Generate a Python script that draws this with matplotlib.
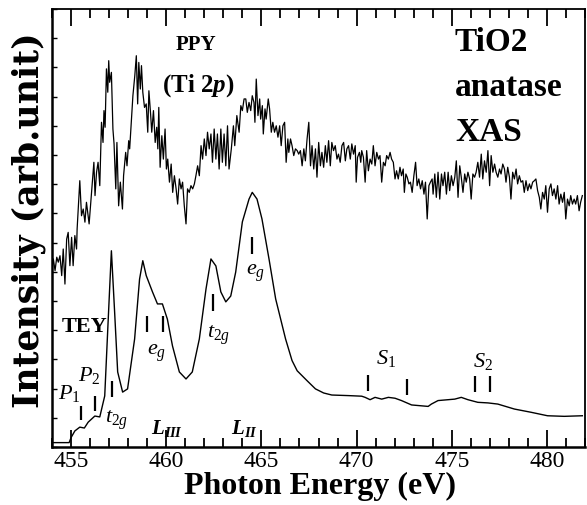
import matplotlib
matplotlib.use("Agg")
import matplotlib.pyplot as plt
from matplotlib.ticker import MultipleLocator, NullFormatter

plt.rcParams['font.family'] = ['Liberation Serif', 'DejaVu Serif']
plt.rcParams['mathtext.fontset'] = 'custom'
plt.rcParams['mathtext.rm'] = 'Liberation Serif'
plt.rcParams['mathtext.it'] = 'Liberation Serif:italic'
plt.rcParams['mathtext.bf'] = 'Liberation Serif:bold'
plt.rcParams['mathtext.bfit'] = 'Liberation Serif:italic:bold'

# ---------------- data (photon energy in eV, intensity in arb. units) -------------
tey_energy = [454.00, 454.90, 455.00, 455.20, 455.46, 455.70, 455.90, 456.25, 456.51,
              456.77, 456.93, 457.12, 457.29, 457.45, 457.71, 457.97, 458.34, 458.60,
              458.77, 458.95, 459.28, 459.54, 459.80, 460.06, 460.33, 460.69, 461.04,
              461.37, 461.74, 462.09, 462.35, 462.61, 462.87, 463.13, 463.39, 463.65,
              464.00, 464.35, 464.52, 464.77, 465.03, 465.40, 465.75, 466.27, 466.61,
              466.88, 467.40, 467.84, 468.27, 468.70, 469.58, 470.27, 470.45, 470.71,
              470.97, 471.32, 471.67, 472.02, 472.36, 472.89, 473.76, 473.93, 474.28,
              474.81, 475.16, 475.50, 475.85, 476.37, 476.90, 477.42, 478.29, 479.16,
              480.03, 480.91, 481.86]
tey_intensity = [0.15, 0.15, 0.32, 0.55, 0.68, 0.65, 0.85, 1.06, 1.03,
                 1.75, 4.04, 6.72, 4.62, 2.57, 1.88, 1.99, 3.70, 5.75,
                 6.38, 5.87, 5.31, 4.90, 4.90, 4.38, 3.46, 2.57, 2.33,
                 2.57, 3.70, 5.41, 6.44, 6.20, 5.31, 4.97, 5.17, 5.99,
                 7.71, 8.49, 8.72, 8.49, 7.81, 6.44, 5.07, 3.70, 2.96,
                 2.61, 2.27, 1.99, 1.85, 1.78, 1.76, 1.74, 1.70, 1.62,
                 1.70, 1.64, 1.70, 1.67, 1.59, 1.44, 1.39, 1.47, 1.59,
                 1.62, 1.64, 1.70, 1.62, 1.53, 1.51, 1.47, 1.30, 1.19,
                 1.07, 1.05, 1.07]

ppy_energy = [
    454.00, 454.07, 454.16, 454.25, 454.33, 454.42, 454.51, 454.59, 454.68, 454.77,
    454.85, 454.94, 455.03, 455.11, 455.20, 455.29, 455.32, 455.46, 455.55, 455.64,
    455.73, 455.81, 455.95, 456.08, 456.20, 456.26, 456.34, 456.42, 456.51, 456.60,
    456.68, 456.73, 456.79, 456.86, 456.93, 456.98, 457.03, 457.12, 457.20, 457.26,
    457.35, 457.41, 457.50, 457.59, 457.70, 457.76, 457.87, 457.94, 458.03, 458.08,
    458.17, 458.25, 458.35, 458.43, 458.50, 458.56, 458.64, 458.70, 458.77, 458.86,
    458.95, 459.03, 459.09, 459.18, 459.24, 459.33, 459.42, 459.50, 459.56, 459.61,
    459.68, 459.77, 459.85, 459.94, 460.01, 460.08, 460.17, 460.26, 460.34, 460.43,
    460.52, 460.60, 460.69, 460.78, 460.86, 460.95, 461.04, 461.12, 461.21, 461.30,
    461.39, 461.48, 461.56, 461.65, 461.74, 461.83, 461.91, 462.00, 462.09, 462.17,
    462.26, 462.35, 462.43, 462.52, 462.61, 462.69, 462.78, 462.87, 462.95, 463.04,
    463.13, 463.22, 463.30, 463.42, 463.53, 463.60, 463.71, 463.83, 463.92, 464.00,
    464.09, 464.18, 464.26, 464.35, 464.44, 464.52, 464.61, 464.66, 464.73, 464.82,
    464.91, 464.96, 465.05, 465.10, 465.19, 465.25, 465.36, 465.43, 465.52, 465.60,
    465.69, 465.78, 465.87, 465.96, 466.04, 466.13, 466.22, 466.30, 466.39, 466.44,
    466.53, 466.61, 466.70, 466.79, 466.88, 466.96, 467.05, 467.14, 467.23, 467.31,
    467.40, 467.49, 467.58, 467.66, 467.75, 467.84, 467.92, 468.01, 468.10, 468.18,
    468.27, 468.36, 468.44, 468.53, 468.62, 468.70, 468.79, 468.88, 468.97, 469.05,
    469.14, 469.23, 469.32, 469.41, 469.49, 469.58, 469.67, 469.75, 469.84, 469.93,
    469.98, 470.05, 470.15, 470.22, 470.27, 470.36, 470.45, 470.53, 470.62, 470.71,
    470.80, 470.88, 470.97, 471.06, 471.15, 471.23, 471.32, 471.41, 471.50, 471.58,
    471.67, 471.76, 471.84, 471.93, 472.02, 472.10, 472.19, 472.28, 472.36, 472.45,
    472.51, 472.59, 472.66, 472.75, 472.83, 472.92, 473.01, 473.10, 473.18, 473.27,
    473.36, 473.45, 473.54, 473.62, 473.71, 473.80, 473.88, 473.97, 474.02, 474.11,
    474.19, 474.28, 474.37, 474.46, 474.54, 474.63, 474.72, 474.81, 474.89, 474.98,
    475.07, 475.16, 475.24, 475.33, 475.42, 475.50, 475.59, 475.68, 475.76, 475.85,
    475.94, 476.02, 476.11, 476.20, 476.28, 476.37, 476.46, 476.55, 476.63, 476.72,
    476.81, 476.90, 476.99, 477.07, 477.16, 477.25, 477.33, 477.42, 477.51, 477.59,
    477.68, 477.77, 477.85, 477.94, 478.03, 478.11, 478.20, 478.29, 478.38, 478.46,
    478.55, 478.64, 478.73, 478.81, 478.90, 478.99, 479.08, 479.16, 479.25, 479.34,
    479.42, 479.51, 479.60, 479.68, 479.77, 479.86, 479.94, 480.03, 480.12, 480.21,
    480.29, 480.38, 480.47, 480.56, 480.64, 480.73, 480.82, 480.91, 480.99, 481.08,
    481.17, 481.25, 481.34, 481.43, 481.51, 481.60, 481.69, 481.77, 481.86]
ppy_intensity = [
    6.10, 6.44, 6.04, 6.50, 6.33, 6.55, 5.87, 6.78, 5.58, 7.12,
    7.35, 6.21, 7.18, 6.21, 7.24, 6.78, 7.47, 9.12, 7.92, 8.15,
    7.70, 8.38, 7.64, 8.72, 9.75, 8.61, 9.41, 9.75, 8.95, 11.12,
    10.43, 11.52, 10.95, 12.95, 12.15, 13.23, 12.49, 12.83, 10.89, 10.38,
    8.84, 10.43, 8.26, 9.07, 8.15, 9.29, 10.09, 9.63, 10.49, 10.21,
    11.17, 12.03, 12.72, 13.40, 11.75, 13.17, 12.26, 13.06, 12.15, 11.63,
    11.75, 10.78, 12.20, 11.40, 10.78, 11.52, 10.43, 10.95, 10.21, 11.63,
    9.58, 10.66, 9.86, 10.89, 9.52, 9.86, 9.07, 9.69, 8.72, 9.29,
    8.84, 8.32, 9.18, 8.84, 9.07, 8.26, 7.64, 8.84, 8.72, 8.95,
    8.84, 9.01, 9.29, 9.63, 9.29, 10.32, 9.86, 10.55, 9.98, 10.78,
    10.21, 10.72, 9.75, 10.89, 9.86, 10.72, 9.52, 10.89, 9.75, 10.72,
    9.63, 11.00, 9.52, 10.21, 11.00, 10.32, 11.35, 10.78, 11.69, 11.52,
    11.92, 11.92, 11.46, 11.80, 11.52, 12.03, 11.80, 11.12, 12.60, 11.35,
    11.92, 11.23, 11.69, 10.72, 11.58, 11.23, 11.92, 11.58, 10.78, 11.12,
    10.78, 11.00, 10.61, 11.00, 10.32, 11.00, 11.12, 9.75, 10.55, 10.09,
    10.55, 10.32, 9.98, 10.21, 10.15, 10.03, 10.15, 9.63, 10.21, 9.80,
    10.55, 11.12, 9.63, 10.32, 9.52, 10.21, 9.24, 10.43, 9.63, 10.09,
    9.58, 10.32, 9.75, 10.49, 9.63, 10.43, 10.15, 10.32, 9.86, 10.03,
    9.75, 10.32, 10.43, 9.80, 10.21, 10.32, 9.86, 10.38, 10.03, 10.32,
    9.07, 9.92, 10.09, 9.75, 10.15, 9.92, 9.07, 10.15, 9.46, 9.86,
    9.69, 10.32, 9.63, 10.09, 9.86, 9.98, 9.07, 9.75, 9.63, 9.98,
    9.86, 10.09, 9.86, 9.75, 9.18, 9.46, 9.18, 9.58, 9.29, 9.52,
    8.72, 9.35, 9.24, 9.01, 9.07, 8.72, 9.29, 9.75, 8.95, 9.18,
    8.84, 9.12, 8.66, 9.07, 7.81, 8.95, 9.07, 9.18, 8.66, 9.35,
    8.55, 9.41, 8.49, 9.35, 8.95, 9.41, 8.66, 9.41, 8.78, 9.29,
    8.95, 9.24, 9.80, 8.55, 9.63, 9.24, 8.72, 9.35, 9.07, 9.41,
    9.18, 8.49, 9.35, 9.24, 9.41, 9.75, 9.24, 10.03, 9.18, 9.80,
    9.41, 10.15, 8.95, 9.98, 9.41, 9.69, 9.41, 9.24, 9.52, 9.35,
    9.69, 9.52, 9.07, 9.58, 9.24, 8.49, 9.41, 9.18, 9.52, 9.01,
    9.29, 9.07, 9.12, 8.72, 9.12, 8.78, 9.01, 8.84, 9.07, 9.12,
    9.18, 8.78, 8.55, 8.15, 8.72, 8.49, 8.95, 8.04, 8.84, 9.01,
    8.61, 8.84, 8.49, 8.95, 8.32, 8.66, 8.38, 8.72, 7.81, 8.49,
    8.26, 8.61, 8.32, 8.49, 8.32, 8.61, 8.09, 8.38, 8.61]

# feature markers: energy, bottom, top
marker_energy = [455.50, 456.25, 457.17, 458.98, 459.85, 462.45, 464.52, 470.62, 472.63, 476.20, 477.02]
marker_low = [0.91, 1.24, 1.70, 3.93, 3.93, 4.67, 6.61, 1.93, 1.78, 1.87, 1.87]
marker_high = [1.42, 1.76, 2.27, 4.50, 4.50, 5.24, 7.18, 2.47, 2.33, 2.42, 2.42]

x_ticks = [455, 460, 465, 470, 475, 480]

# ---------------- figure ----------------
fig = plt.figure(figsize=(5.87, 5.06), dpi=100)
ax = fig.add_axes([52/587, 58/506, 533/587, 438/506])

ax.plot(tey_energy, tey_intensity, color='black', lw=1.0)
ax.plot(ppy_energy, ppy_intensity, color='black', lw=0.9)
ax.vlines(marker_energy, marker_low, marker_high, color='black', lw=1.6)

ax.set_xlim(454, 482)
ax.set_ylim(0, 15)
ax.set_xticks(x_ticks)
ax.xaxis.set_minor_locator(MultipleLocator(1))
ax.yaxis.set_major_locator(MultipleLocator(1))
ax.yaxis.set_major_formatter(NullFormatter())
ax.tick_params(axis='x', which='major', direction='in', length=12, width=1.3,
               top=True, bottom=True, labelsize=17, pad=2)
ax.tick_params(axis='x', which='minor', direction='in', length=6.5, width=1.3,
               top=True, bottom=True)
ax.tick_params(axis='y', which='major', direction='in', length=3.5, width=1.0,
               left=True, right=False)
for side in ['left', 'bottom']:
    ax.spines[side].set_linewidth(1.8)
for side in ['top', 'right']:
    ax.spines[side].set_linewidth(1.3)

# labels
fig.text(320/587, 1 - 486/506, 'Photon Energy (eV)', ha='center', va='center',
         fontsize=23, fontweight='bold')
fig.text(29/587, 1 - 220/506, 'Intensity (arb.unit)', ha='center', va='center',
         rotation=90, fontsize=25, fontweight='bold', family=['DejaVu Serif'])

# annotations
ax.text(461.56, 13.8, 'PPY', ha='center', va='center', fontsize=15, fontweight='bold')
ax.text(461.7, 12.4, r'(Ti 2$\mathbfit{p}$)', ha='center', va='center', fontsize=18,
        fontweight='bold')
ax.text(475.17, 13.87, 'TiO2', ha='left', va='center', fontsize=24, fontweight='bold')
ax.text(475.17, 12.36, 'anatase', ha='left', va='center', fontsize=24, fontweight='bold')
ax.text(475.17, 10.79, 'XAS', ha='left', va='center', fontsize=24, fontweight='bold')

ax.text(454.51, 4.15, 'TEY', ha='left', va='center', fontsize=16, fontweight='bold')
ax.text(454.31, 1.88, r'$\mathit{P_1}$', ha='left', va='center', fontsize=16)
ax.text(455.36, 2.50, r'$\mathit{P_2}$', ha='left', va='center', fontsize=16)
ax.text(456.77, 0.96, r'$t_{2g}$', ha='left', va='center', fontsize=16)
ax.text(459.0, 3.25, r'$e_{g}$', ha='left', va='center', fontsize=16)
ax.text(462.15, 3.87, r'$t_{2g}$', ha='left', va='center', fontsize=16)
ax.text(464.18, 5.99, r'$e_{g}$', ha='left', va='center', fontsize=16)
ax.text(459.2, 0.68, r'$\mathbfit{L_{III}}$', ha='left', va='center', fontsize=15)
ax.text(463.4, 0.68, r'$\mathbfit{L_{II}}$', ha='left', va='center', fontsize=15)
ax.text(471.04, 3.08, r'$\mathit{S_1}$', ha='left', va='center', fontsize=16)
ax.text(476.11, 2.96, r'$\mathit{S_2}$', ha='left', va='center', fontsize=16)

fig.savefig('out.png', dpi=100)
